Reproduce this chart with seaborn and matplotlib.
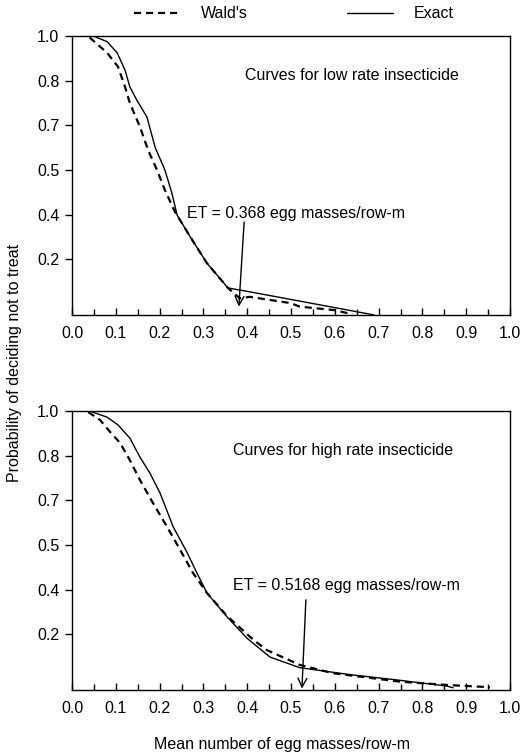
import matplotlib
matplotlib.use("Agg")
import matplotlib.pyplot as plt
import seaborn as sns
import numpy as np

# ---- data ----
low_exact_x = [0.025, 0.048, 0.08, 0.103, 0.121, 0.132, 0.148, 0.171, 0.19, 0.212, 0.228, 0.24, 0.27, 0.308, 0.356, 0.406, 0.605, 0.69]
low_exact_y = [1.0, 1.0, 0.98, 0.94, 0.878, 0.818, 0.77, 0.71, 0.60, 0.52, 0.437, 0.358, 0.28, 0.186, 0.097, 0.083, 0.025, 0.0]
low_wald_x = [0.04, 0.08, 0.105, 0.121, 0.132, 0.155, 0.174, 0.194, 0.212, 0.235, 0.27, 0.308, 0.356, 0.383, 0.406, 0.498, 0.52, 0.596, 0.64]
low_wald_y = [0.995, 0.94, 0.89, 0.818, 0.76, 0.675, 0.59, 0.52, 0.448, 0.37, 0.28, 0.186, 0.097, 0.06, 0.065, 0.043, 0.03, 0.018, 0.003]

high_exact_x = [0.0, 0.04, 0.08, 0.105, 0.132, 0.155, 0.178, 0.201, 0.231, 0.262, 0.285, 0.308, 0.354, 0.40, 0.452, 0.52, 0.635, 0.742, 0.856, 0.87]
high_exact_y = [1.0, 1.0, 0.978, 0.95, 0.903, 0.835, 0.777, 0.706, 0.585, 0.495, 0.42, 0.348, 0.262, 0.185, 0.118, 0.08, 0.055, 0.036, 0.014, 0.008]
high_wald_x = [0.037, 0.064, 0.087, 0.11, 0.132, 0.155, 0.185, 0.217, 0.247, 0.276, 0.308, 0.354, 0.414, 0.445, 0.52, 0.596, 0.749, 0.856, 0.954]
high_wald_y = [0.996, 0.968, 0.925, 0.885, 0.824, 0.753, 0.67, 0.585, 0.502, 0.42, 0.348, 0.265, 0.18, 0.143, 0.09, 0.06, 0.03, 0.018, 0.01]

ytick_pos = [1.0, 0.84, 0.68, 0.52, 0.36, 0.20]
ytick_labels = ["1.0", "0.8", "0.7", "0.5", "0.4", "0.2"]
xtick_major = [0.0, 0.1, 0.2, 0.3, 0.4, 0.5, 0.6, 0.7, 0.8, 0.9, 1.0]
xtick_minor = [0.05, 0.15, 0.25, 0.35, 0.45, 0.55, 0.65, 0.75, 0.85, 0.95]

panel_titles = ["Curves for low rate insecticide", "Curves for high rate insecticide"]
et_labels = ["ET = 0.368 egg masses/row-m", "ET = 0.5168 egg masses/row-m"]
et_text_xy = [(0.262, 0.365), (0.368, 0.376)]
et_arrow_start = [(0.393, 0.333), (0.534, 0.323)]
et_arrow_tip = [(0.381, 0.03), (0.525, 0.005)]

sns.set_theme(style="ticks")
plt.rcParams['font.family'] = ['Liberation Sans', 'DejaVu Sans']
plt.rcParams.update({"text.color": "black", "axes.labelcolor": "black",
                     "xtick.color": "black", "ytick.color": "black",
                     "axes.edgecolor": "black"})
FS = 11.5

fig = plt.figure(figsize=(5.24, 7.55), dpi=100)
ax_top = fig.add_axes([72/524, (755-315)/755, 438/524, 279/755])
ax_bot = fig.add_axes([72/524, (755-690)/755, 438/524, 279/755])

dash = (0, (3.2, 2.2))
panels = [
    (ax_top, low_wald_x, low_wald_y, low_exact_x, low_exact_y),
    (ax_bot, high_wald_x, high_wald_y, high_exact_x, high_exact_y),
]
for i, (ax, wx, wy, ex, ey) in enumerate(panels):
    sns.lineplot(x=wx, y=wy, ax=ax, color="black", lw=1.6, linestyle=dash,
                 estimator=None, sort=False, label="Wald's", legend=False)
    sns.lineplot(x=ex, y=ey, ax=ax, color="black", lw=1.0,
                 estimator=None, sort=False, label="Exact", legend=False)
    ax.set_xlim(0, 1)
    ax.set_ylim(0, 1)
    ax.set_xticks(xtick_major)
    ax.set_xticks(xtick_minor, minor=True)
    ax.set_xticklabels([f"{v:.1f}" for v in xtick_major], fontsize=FS, color="black")
    ax.set_yticks(ytick_pos)
    ax.set_yticklabels(ytick_labels, fontsize=FS, color="black")
    ax.tick_params(axis="x", which="major", direction="in", length=5, width=1, pad=8, colors="black")
    ax.tick_params(axis="x", which="minor", direction="in", length=4, width=1, colors="black")
    ax.tick_params(axis="y", direction="out", length=5, width=1, pad=4, colors="black")
    for s in ax.spines.values():
        s.set_linewidth(1.0)
        s.set_color("black")
    ax.set_xlabel("")
    ax.set_ylabel("")
    ax.text(0.368 if i else 0.395, 0.86, panel_titles[i], fontsize=FS, va="center", ha="left", color="black")
    ax.text(et_text_xy[i][0], et_text_xy[i][1], et_labels[i], fontsize=FS, va="center", ha="left", color="black")
    ax.annotate("", xy=et_arrow_tip[i], xytext=et_arrow_start[i],
                arrowprops=dict(arrowstyle="->", color="black", lw=1.0,
                                mutation_scale=16, shrinkA=0, shrinkB=0))

handles, labels = ax_top.get_legend_handles_labels()
leg = fig.legend(handles, labels, loc="center", bbox_to_anchor=(0.561, 1 - 14/755),
                 ncol=2, frameon=False, fontsize=FS, handlelength=2.9,
                 handletextpad=1.3, columnspacing=6.2)
for t in leg.get_texts():
    t.set_color("black")

fig.text(15/524, 1 - 363/755, "Probability of deciding not to treat", rotation=90,
         fontsize=FS, ha="center", va="center", color="black")
fig.text(282/524, 1 - 745/755, "Mean number of egg masses/row-m", fontsize=FS,
         ha="center", va="center", color="black")

fig.savefig("out.png", dpi=100)
